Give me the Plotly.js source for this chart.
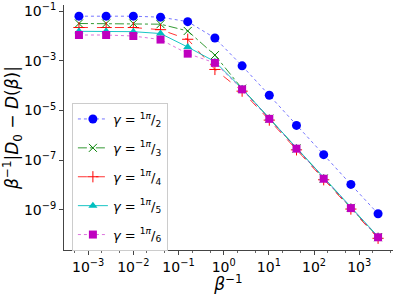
<!DOCTYPE html>
<html>
<head>
<meta charset="utf-8">
<script src="https://cdn.plot.ly/plotly-3.0.1.min.js"></script>
<style>html,body{margin:0;padding:0;background:#fff;}#plot{width:399px;height:294px;}</style>
</head>
<body>
<div id="plot"></div>
<script>
// beta^{-1} values
var betaInv = [6.25e-4, 2.5e-3, 1e-2, 4e-2, 0.16, 0.64, 2.56, 10.24, 40.96, 163.84, 655.36, 2621.44];
// |D0 - D(beta)| / beta for each gamma
var gamma2 = [6.3e-2, 6.3e-2, 6.3e-2, 5.75e-2, 3.8e-2, 8.3e-3, 6.3e-4, 4.1e-5, 2.5e-6, 1.66e-7, 1.05e-8, 6.9e-10];
var gamma3 = [3.2e-2, 3.2e-2, 3.2e-2, 3.0e-2, 1.6e-2, 1.7e-3, 7.6e-5, 4.7e-6, 2.95e-7, 1.82e-8, 1.2e-9, 7.9e-11];
var gamma4 = [2.2e-2, 2.2e-2, 2.2e-2, 1.8e-2, 7.4e-3, 4.5e-4, 6.0e-5, 4.1e-6, 2.6e-7, 1.62e-8, 1.07e-9, 7.1e-11];
var gamma5 = [1.55e-2, 1.55e-2, 1.5e-2, 1.26e-2, 3.6e-3, 9.3e-4, 7.6e-5, 4.9e-6, 3.1e-7, 1.9e-8, 1.26e-9, 8.3e-11];
var gamma6 = [1.1e-2, 1.1e-2, 1.0e-2, 7.2e-3, 1.95e-3, 8.3e-4, 7.1e-5, 4.6e-6, 2.9e-7, 1.78e-8, 1.17e-9, 7.8e-11];
var seriesNames = ['<i>γ</i> = <sup>1<i>π</i></sup>/<sub>2</sub>', '<i>γ</i> = <sup>1<i>π</i></sup>/<sub>3</sub>',
  '<i>γ</i> = <sup>1<i>π</i></sup>/<sub>4</sub>', '<i>γ</i> = <sup>1<i>π</i></sup>/<sub>5</sub>', '<i>γ</i> = <sup>1<i>π</i></sup>/<sub>6</sub>'];
var xTickVals = [1e-3, 1e-2, 1e-1, 1, 10, 100, 1000];
var xTickText = ['10<sup>−3</sup>', '10<sup>−2</sup>', '10<sup>−1</sup>', '10<sup>0</sup>', '10<sup>1</sup>', '10<sup>2</sup>', '10<sup>3</sup>'];
var yTickVals = [1e-1, 1e-3, 1e-5, 1e-7, 1e-9];
var yTickText = ['10<sup>−1</sup>', '10<sup>−3</sup>', '10<sup>−5</sup>', '10<sup>−7</sup>', '10<sup>−9</sup>'];

var styles = [
  {line: 'rgba(0,0,255,0.55)', dash: 'dot', mcolor: '#0000ff', symbol: 'circle', size: 9, mline: 0},
  {line: 'rgba(0,128,0,0.8)', dash: 'dashdot', mcolor: '#008000', symbol: 'x-thin', size: 8, mline: 1},
  {line: 'rgba(255,0,0,0.8)', dash: 'dash', mcolor: '#ff0000', symbol: 'cross-thin', size: 8, mline: 1},
  {line: 'rgba(0,191,191,0.9)', dash: 'solid', mcolor: '#00bfbf', symbol: 'triangle-up', size: 8, mline: 0},
  {line: 'rgba(191,0,191,0.55)', dash: 'dot', mcolor: '#bf00bf', symbol: 'square', size: 8, mline: 0}
];
var ys = [gamma2, gamma3, gamma4, gamma5, gamma6];
var traces = ys.map(function (y, i) {
  var s = styles[i];
  return {
    x: betaInv, y: y, type: 'scatter', mode: 'lines+markers', name: seriesNames[i],
    legendgroup: 'g' + i,
    line: {color: s.line, dash: s.dash, width: 1},
    marker: {color: s.mcolor, symbol: s.symbol, size: s.size,
      line: {color: s.mcolor, width: s.mline}}
  };
});

var axisFont = {family: 'DejaVu Sans', size: 14, color: '#000'};
var layout = {
  width: 399, height: 294,
  margin: {l: 64, r: 6, t: 5, b: 44},
  paper_bgcolor: '#fff', plot_bgcolor: '#fff',
  showlegend: true,
  legend: {x: 0.024, y: 0.60, xanchor: 'left', yanchor: 'top',
    bgcolor: 'rgba(255,255,255,0.8)', bordercolor: '#cccccc', borderwidth: 1,
    font: {family: 'DejaVu Sans', size: 13, color: '#000'}, tracegroupgap: 9, itemwidth: 30},
  xaxis: {
    type: 'log', range: [-3.535, 3.749], showgrid: false, zeroline: false,
    showline: true, linecolor: '#444', linewidth: 1, mirror: false,
    ticks: 'outside', ticklen: 4, tickwidth: 1, tickcolor: '#444',
    tickvals: xTickVals, ticktext: xTickText, tickfont: axisFont,
    minor: {ticks: 'outside', ticklen: 2, tickcolor: '#666', showgrid: false},
    title: {text: '<i>β</i><sup>−1</sup>', font: {family: 'DejaVu Sans', size: 17, color: '#000'}, standoff: 2}
  },
  yaxis: {
    type: 'log', range: [-10.62, -0.75], showgrid: false, zeroline: false,
    showline: true, linecolor: '#444', linewidth: 1, mirror: false,
    ticks: 'outside', ticklen: 4, tickwidth: 1, tickcolor: '#444',
    tickvals: yTickVals, ticktext: yTickText, tickfont: axisFont,
    title: {text: '<i>β</i><sup>−1</sup>|<i>D</i><sub>0</sub> − <i>D</i>(<i>β</i>)|', font: {family: 'DejaVu Sans', size: 17, color: '#000'}, standoff: 4}
  }
};
Plotly.newPlot('plot', traces, layout, {staticPlot: true, displayModeBar: false});
</script>
</body>
</html>
